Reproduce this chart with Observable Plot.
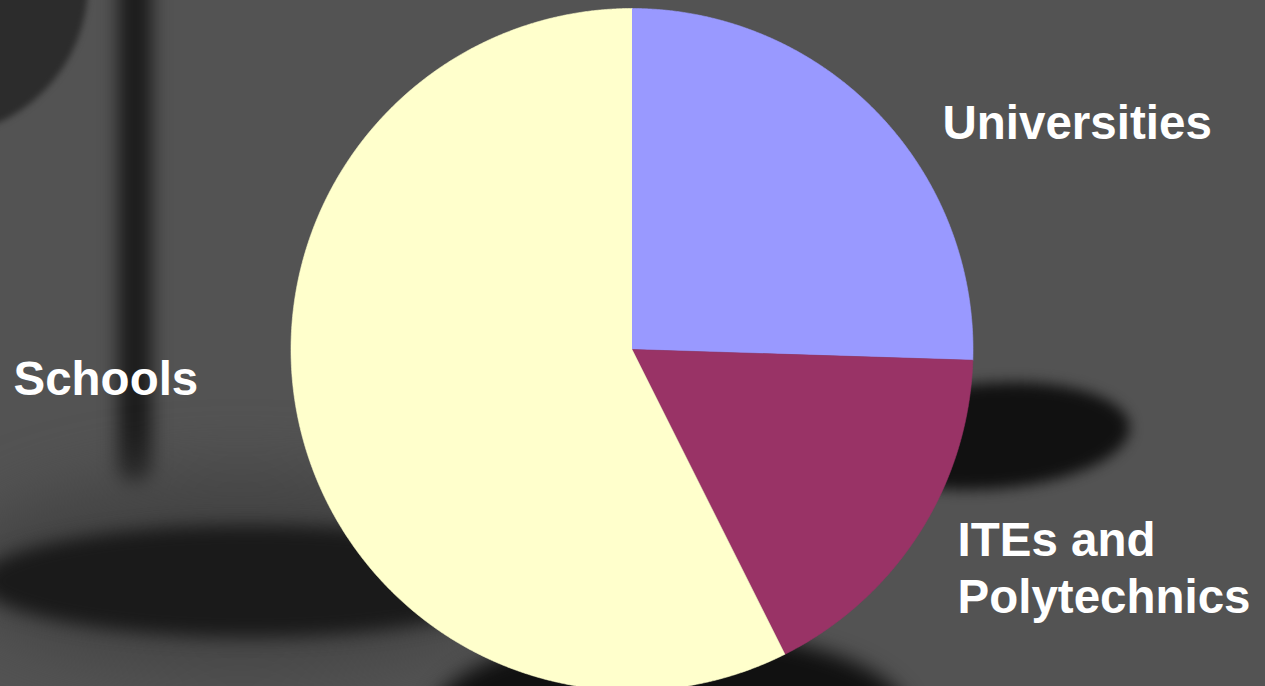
<!DOCTYPE html>
<html>
<head>
<meta charset="utf-8">
<script src="https://cdn.jsdelivr.net/npm/d3@7"></script>
<script src="https://cdn.jsdelivr.net/npm/@observablehq/plot@0.6"></script>
<style>
  html, body { margin: 0; padding: 0; background: #535353; overflow: hidden; }
  #wrap { position: relative; width: 1265px; height: 686px; overflow: hidden; background: #535353; }
  .shade { position: absolute; border-radius: 50%; }
  #chart { position: absolute; left: 0; top: 0; }
</style>
</head>
<body>
<div id="wrap">
  <!-- blurred photographic background shapes -->
  <div class="shade" style="left:-216px;top:-168px;width:304px;height:304px;background:#2c2c2c;filter:blur(3px);"></div>
  <div class="shade" style="left:118px;top:-40px;width:34px;height:525px;border-radius:17px;background:#1c1c1c;filter:blur(9px);"></div>
  <div class="shade" style="left:-40px;top:470px;width:560px;height:200px;background:#444;filter:blur(30px);"></div>
  <div class="shade" style="left:-20px;top:525px;width:540px;height:112px;background:#1a1a1a;filter:blur(9px);"></div>
  <div class="shade" style="left:850px;top:383px;width:280px;height:106px;background:#111;filter:blur(7px);transform:rotate(-4deg);"></div>
  <div class="shade" style="left:430px;top:630px;width:480px;height:180px;background:#111;filter:blur(10px);"></div>
  <div id="chart"></div>
</div>
<script>
// ---- data ----
const categories = ["Universities", "ITEs and Polytechnics", "Schools"];
const shares = [25.5, 17.1, 57.4];
const labelTexts = ["Universities", "ITEs and\nPolytechnics", "Schools"];

// ---- style / layout (not data) ----
const colors = ["#9999FF", "#993366", "#FFFFCC"];
const W = 1265, H = 686;
const pie = {cx: 631.5, cy: 349, r: 341};
const labelPos = [
  {x: 942, y: 98},    // Universities
  {x: 957, y: 515},   // ITEs and Polytechnics
  {x: 13, y: 354}     // Schools
];

// slice outlines computed from the shares
const total = d3.sum(shares);
const slices = [];
let start = 0;
categories.forEach((name, i) => {
  const a0 = start, a1 = start + shares[i] / total * 2 * Math.PI;
  start = a1;
  slices.push({name, x: pie.cx, y: pie.cy});
  const n = Math.max(2, Math.ceil((a1 - a0) / (Math.PI / 720)));
  for (let k = 0; k <= n; k++) {
    const a = a0 + (a1 - a0) * k / n;
    slices.push({name, x: pie.cx + pie.r * Math.sin(a), y: pie.cy - pie.r * Math.cos(a)});
  }
});

const labels = categories.map((name, i) => ({name, text: labelTexts[i], ...labelPos[i]}));

const chart = Plot.plot({
  width: W,
  height: H,
  margin: 0,
  style: {background: "transparent", overflow: "visible"},
  x: {domain: [0, W], range: [0, W], axis: null},
  y: {domain: [0, H], range: [0, H], axis: null},
  color: {domain: categories, range: colors},
  marks: [
    Plot.line(slices, {x: "x", y: "y", z: "name", fill: "name", stroke: "name", strokeWidth: 0.6, curve: "linear"}),
    Plot.text(labels, {
      x: "x", y: "y", text: "text",
      textAnchor: "start", lineAnchor: "top", lineHeight: 1.2,
      fontSize: 47.5, fontWeight: "bold",
      fontFamily: "'Liberation Sans', Arial, Helvetica, sans-serif",
      fill: "white"
    })
  ]
});
document.getElementById("chart").appendChild(chart);
</script>
</body>
</html>
